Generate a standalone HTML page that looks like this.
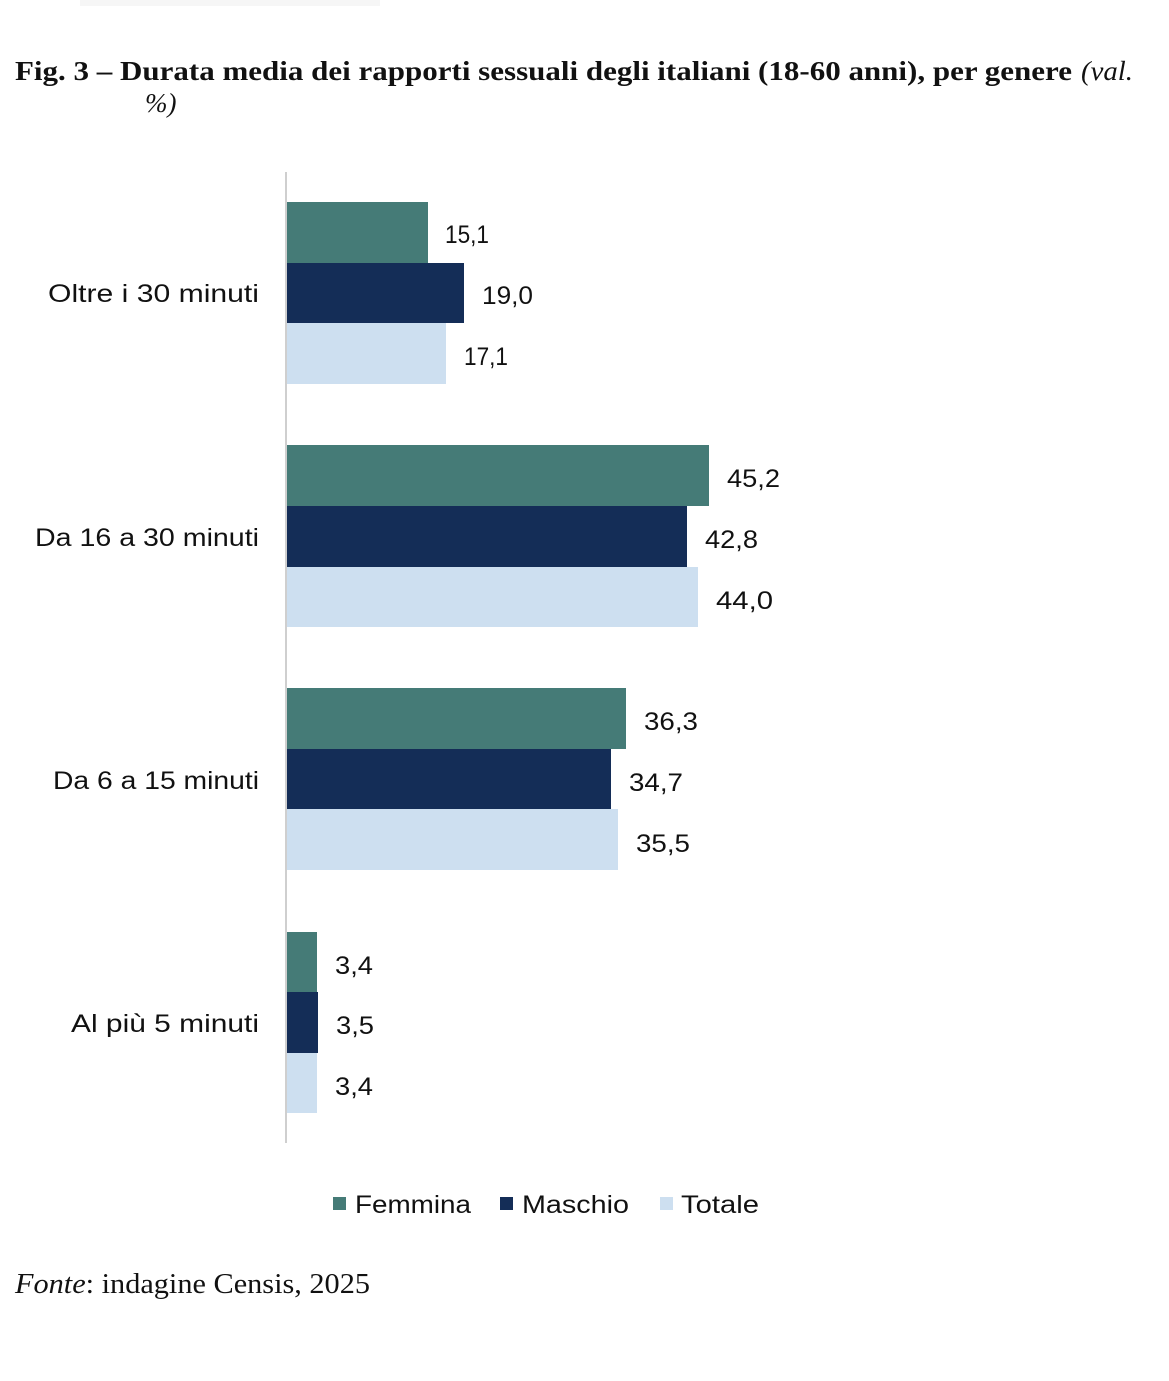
<!DOCTYPE html>
<html><head><meta charset="utf-8"><style>
html,body{margin:0;padding:0;background:#fff;}
svg{display:block;}
</style></head><body>
<svg width="1169" height="1381" viewBox="0 0 1169 1381" xmlns="http://www.w3.org/2000/svg">
<rect x="80" y="0" width="300" height="6" fill="#f6f6f6"/>
<g font-family="Liberation Serif, serif" font-size="27" fill="#111">
<text x="15" y="80" font-weight="bold" textLength="1057" lengthAdjust="spacingAndGlyphs">Fig. 3 – Durata media dei rapporti sessuali degli italiani (18-60 anni), per genere</text>
<text x="1081" y="80" font-style="italic" textLength="52" lengthAdjust="spacingAndGlyphs">(val.</text>
<text x="145" y="112" font-style="italic">%)</text>
</g>
<line x1="286" y1="172" x2="286" y2="1143" stroke="#cfcfcf" stroke-width="2"/>
<g>
<rect x="287" y="202" width="141" height="61" fill="#457b77"/>
<rect x="287" y="263" width="177" height="60" fill="#142d57"/>
<rect x="287" y="323" width="159" height="61" fill="#cddff0"/>
<rect x="287" y="445" width="422" height="61" fill="#457b77"/>
<rect x="287" y="506" width="400" height="61" fill="#142d57"/>
<rect x="287" y="567" width="411" height="60" fill="#cddff0"/>
<rect x="287" y="688" width="339" height="61" fill="#457b77"/>
<rect x="287" y="749" width="324" height="60" fill="#142d57"/>
<rect x="287" y="809" width="331" height="61" fill="#cddff0"/>
<rect x="287" y="932" width="30" height="60" fill="#457b77"/>
<rect x="287" y="992" width="31" height="61" fill="#142d57"/>
<rect x="287" y="1053" width="30" height="60" fill="#cddff0"/>
</g>
<g font-family="Liberation Sans, sans-serif" font-size="25" fill="#111">
<text x="445" y="243" textLength="44" lengthAdjust="spacingAndGlyphs">15,1</text>
<text x="482" y="304" textLength="51" lengthAdjust="spacingAndGlyphs">19,0</text>
<text x="464" y="365" textLength="44" lengthAdjust="spacingAndGlyphs">17,1</text>
<text x="727" y="487" textLength="53" lengthAdjust="spacingAndGlyphs">45,2</text>
<text x="705" y="548" textLength="53" lengthAdjust="spacingAndGlyphs">42,8</text>
<text x="716" y="609" textLength="57" lengthAdjust="spacingAndGlyphs">44,0</text>
<text x="644" y="730" textLength="54" lengthAdjust="spacingAndGlyphs">36,3</text>
<text x="629" y="791" textLength="54" lengthAdjust="spacingAndGlyphs">34,7</text>
<text x="636" y="852" textLength="54" lengthAdjust="spacingAndGlyphs">35,5</text>
<text x="335" y="974" textLength="38" lengthAdjust="spacingAndGlyphs">3,4</text>
<text x="336" y="1034" textLength="38" lengthAdjust="spacingAndGlyphs">3,5</text>
<text x="335" y="1095" textLength="38" lengthAdjust="spacingAndGlyphs">3,4</text>
<text x="48" y="302" textLength="211" lengthAdjust="spacingAndGlyphs">Oltre i 30 minuti</text>
<text x="35" y="546" textLength="224" lengthAdjust="spacingAndGlyphs">Da 16 a 30 minuti</text>
<text x="53" y="789" textLength="206" lengthAdjust="spacingAndGlyphs">Da 6 a 15 minuti</text>
<text x="71" y="1032" textLength="188" lengthAdjust="spacingAndGlyphs">Al più 5 minuti</text>
<rect x="333" y="1197" width="13" height="13" fill="#457b77"/>
<text x="355" y="1213" textLength="116" lengthAdjust="spacingAndGlyphs">Femmina</text>
<rect x="500" y="1197" width="13" height="13" fill="#142d57"/>
<text x="522" y="1213" textLength="107" lengthAdjust="spacingAndGlyphs">Maschio</text>
<rect x="660" y="1197" width="13" height="13" fill="#cddff0"/>
<text x="681" y="1213" textLength="78" lengthAdjust="spacingAndGlyphs">Totale</text>
</g>
<g font-family="Liberation Serif, serif" font-size="29" fill="#111">
<text x="15" y="1293" textLength="355" lengthAdjust="spacingAndGlyphs"><tspan font-style="italic">Fonte</tspan>: indagine Censis, 2025</text>
</g>
</svg>
</body></html>
